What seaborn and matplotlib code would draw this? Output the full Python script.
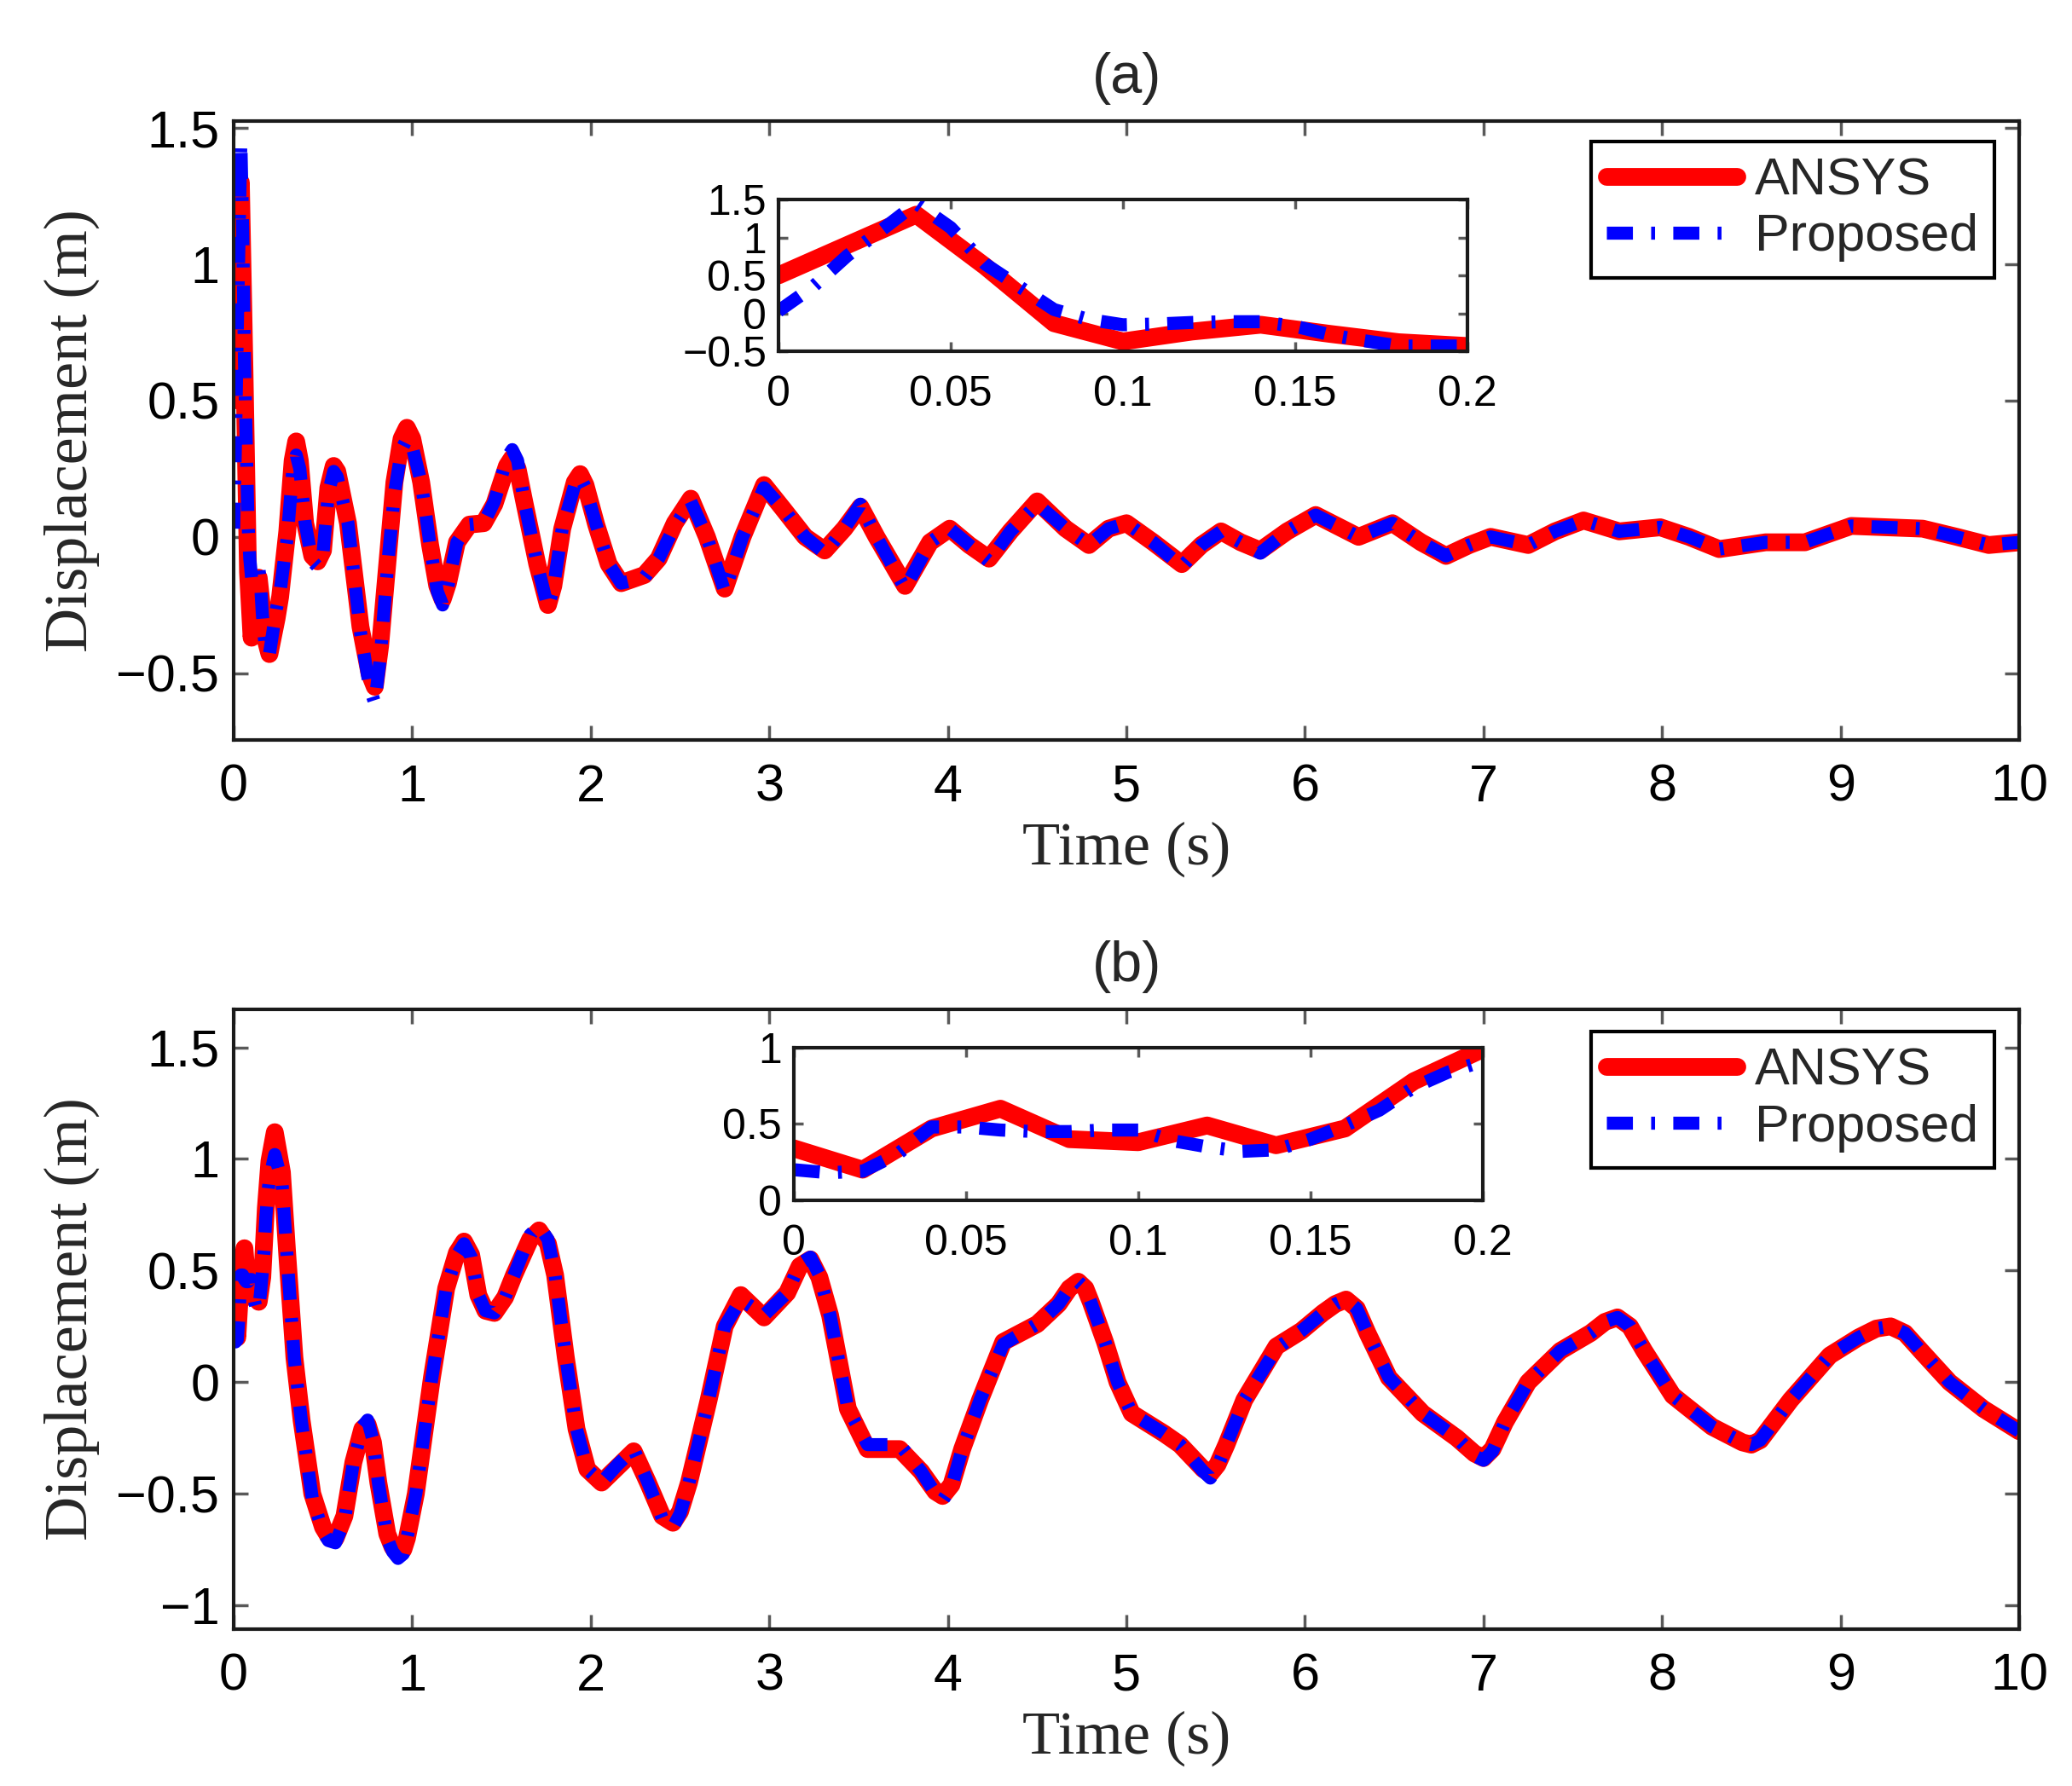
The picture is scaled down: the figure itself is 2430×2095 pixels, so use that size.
import matplotlib
matplotlib.use("Agg")
import matplotlib.pyplot as plt
from matplotlib.ticker import FuncFormatter
import seaborn as sns

# ---- values ----
# first 0.2 s of each record (what the insets show)
t_head_ansys = [0.00, 0.02, 0.04, 0.06, 0.08, 0.10, 0.12, 0.14, 0.16, 0.18, 0.20]
t_head_prop = [0.00, 0.01, 0.02, 0.03, 0.04, 0.05, 0.06, 0.07, 0.08, 0.09, 0.10,
               0.11, 0.12, 0.13, 0.14, 0.15, 0.16, 0.17, 0.18, 0.19, 0.20]

# (a)
a_head_ansys = [0.50, 0.90, 1.30, 0.62, -0.13, -0.37, -0.24, -0.15, -0.27, -0.38, -0.43]
a_head_prop = [0.03, 0.35, 0.76, 1.10, 1.45, 1.13, 0.65, 0.35, 0.05, -0.08, -0.15,
               -0.14, -0.12, -0.11, -0.11, -0.17, -0.28, -0.36, -0.43, -0.43, -0.43]

t_tail_a = [
    0.24, 0.26, 0.30, 0.33, 0.35, 0.37, 0.40, 0.44, 0.47, 0.50,
    0.53, 0.56, 0.58, 0.64, 0.71, 0.76, 0.79, 0.82, 0.86, 0.90,
    0.94, 0.97, 1.00, 1.05, 1.10, 1.14, 1.17, 1.20, 1.25, 1.32,
    1.40, 1.46, 1.53, 1.56, 1.59, 1.63, 1.70, 1.76, 1.79, 1.84,
    1.91, 1.94, 1.97, 2.03, 2.10, 2.17, 2.30, 2.38, 2.47, 2.56,
    2.65, 2.75, 2.85, 2.97, 3.08, 3.20, 3.31, 3.42, 3.51, 3.60,
    3.76, 3.90, 4.01, 4.12, 4.23, 4.35, 4.50, 4.66, 4.79, 4.90,
    5.00, 5.15, 5.31, 5.42, 5.53, 5.64, 5.75, 5.90, 6.06, 6.18,
    6.30, 6.49, 6.65, 6.79, 6.92, 7.04, 7.25, 7.40, 7.56, 7.76,
    7.99, 8.15, 8.32, 8.58, 8.80, 8.93, 9.06, 9.46, 9.65, 9.83,
    10.0]
a_tail_ansys = [
    -0.30, -0.22, 0.02, 0.28, 0.35, 0.28, 0.05, -0.07, -0.09, -0.05,
    0.18, 0.26, 0.24, 0.05, -0.33, -0.50, -0.55, -0.40, -0.10, 0.20,
    0.36, 0.40, 0.36, 0.20, -0.03, -0.18, -0.23, -0.17, -0.02, 0.045,
    0.05, 0.12, 0.26, 0.29, 0.25, 0.12, -0.10, -0.25, -0.18, 0.03,
    0.20, 0.23, 0.19, 0.045, -0.10, -0.17, -0.14, -0.08, 0.05, 0.14,
    0.00, -0.19, 0.00, 0.19, 0.10, 0.00, -0.05, 0.03, 0.11, 0.00,
    -0.18, -0.02, 0.03, -0.03, -0.08, 0.02, 0.13, 0.03, -0.03, 0.03,
    0.05, -0.02, -0.10, -0.03, 0.02, -0.02, -0.05, 0.02, 0.08, 0.04,
    0.00, 0.05, -0.02, -0.07, -0.03, 0.00, -0.03, 0.02, 0.06, 0.02,
    0.035, 0.00, -0.045, -0.02, -0.02, 0.01, 0.04, 0.03, 0.00, -0.03,
    -0.02]
a_tail_prop = [
    -0.26, -0.20, 0.00, 0.24, 0.30, 0.25, 0.05, -0.09, -0.11, -0.06,
    0.16, 0.24, 0.22, 0.05, -0.35, -0.55, -0.61, -0.45, -0.12, 0.16,
    0.32, 0.36, 0.33, 0.20, -0.03, -0.20, -0.25, -0.18, -0.02, 0.045,
    0.05, 0.13, 0.29, 0.32, 0.28, 0.12, -0.10, -0.26, -0.19, 0.03,
    0.19, 0.22, 0.18, 0.045, -0.10, -0.17, -0.15, -0.08, 0.04, 0.13,
    0.00, -0.20, 0.00, 0.18, 0.10, 0.00, -0.06, 0.03, 0.12, 0.00,
    -0.19, -0.02, 0.03, -0.03, -0.09, 0.02, 0.12, 0.03, -0.03, 0.03,
    0.05, -0.02, -0.11, -0.03, 0.02, -0.02, -0.06, 0.02, 0.08, 0.04,
    0.00, 0.05, -0.02, -0.07, -0.03, 0.00, -0.03, 0.02, 0.06, 0.02,
    0.035, 0.00, -0.045, -0.02, -0.02, 0.01, 0.04, 0.03, 0.00, -0.03,
    -0.02]

# (b)
b_head_ansys = [0.34, 0.20, 0.47, 0.60, 0.40, 0.38, 0.49, 0.36, 0.47, 0.78, 0.99]
b_head_prop = [0.20, 0.18, 0.19, 0.30, 0.48, 0.48, 0.46, 0.45, 0.45, 0.46, 0.46,
               0.39, 0.35, 0.32, 0.33, 0.40, 0.49, 0.59, 0.74, 0.84, 0.91]

t_tail_b = [
    0.23, 0.27, 0.30, 0.34, 0.38, 0.44, 0.50, 0.53, 0.57, 0.62,
    0.67, 0.72, 0.75, 0.78, 0.81, 0.86, 0.89, 0.92, 0.95, 0.97,
    1.02, 1.11, 1.19, 1.25, 1.29, 1.33, 1.37, 1.41, 1.46, 1.52,
    1.57, 1.66, 1.71, 1.76, 1.80, 1.86, 1.92, 1.98, 2.06, 2.15,
    2.24, 2.32, 2.40, 2.46, 2.50, 2.55, 2.66, 2.75, 2.84, 2.97,
    3.10, 3.17, 3.23, 3.28, 3.34, 3.44, 3.55, 3.73, 3.85, 3.93,
    3.97, 4.02, 4.08, 4.18, 4.31, 4.50, 4.62, 4.68, 4.73, 4.77,
    4.80, 4.88, 4.95, 5.03, 5.21, 5.30, 5.43, 5.47, 5.51, 5.56,
    5.66, 5.84, 5.98, 6.10, 6.17, 6.23, 6.29, 6.35, 6.47, 6.66,
    6.85, 6.95, 7.00, 7.05, 7.12, 7.25, 7.43, 7.60, 7.68, 7.75,
    7.82, 7.90, 8.06, 8.28, 8.45, 8.50, 8.55, 8.72, 8.94, 9.10,
    9.20, 9.28, 9.36, 9.45, 9.61, 9.80, 10.0]
b_tail_ansys = [
    1.12, 0.94, 0.57, 0.11, -0.17, -0.50, -0.65, -0.69, -0.70, -0.60,
    -0.36, -0.21, -0.19, -0.27, -0.45, -0.68, -0.74, -0.77, -0.75, -0.70,
    -0.50, 0.02, 0.42, 0.58, 0.63, 0.57, 0.39, 0.32, 0.31, 0.38,
    0.48, 0.64, 0.68, 0.62, 0.48, 0.11, -0.21, -0.39, -0.45, -0.38,
    -0.31, -0.45, -0.60, -0.63, -0.58, -0.45, -0.08, 0.25, 0.39, 0.29,
    0.40, 0.52, 0.55, 0.47, 0.30, -0.12, -0.30, -0.30, -0.40, -0.49,
    -0.51, -0.46, -0.30, -0.08, 0.18, 0.26, 0.35, 0.42, 0.45, 0.42,
    0.36, 0.18, 0.00, -0.14, -0.23, -0.28, -0.39, -0.41, -0.37, -0.28,
    -0.08, 0.16, 0.23, 0.31, 0.35, 0.37, 0.33, 0.22, 0.02, -0.14,
    -0.25, -0.32, -0.34, -0.30, -0.18, 0.00, 0.14, 0.22, 0.27, 0.29,
    0.25, 0.14, -0.06, -0.20, -0.27, -0.28, -0.26, -0.08, 0.12, 0.20,
    0.24, 0.25, 0.22, 0.14, 0.00, -0.12, -0.22]
b_tail_prop = [
    1.02, 0.90, 0.55, 0.10, -0.18, -0.52, -0.67, -0.71, -0.72, -0.62,
    -0.36, -0.20, -0.17, -0.26, -0.45, -0.70, -0.76, -0.79, -0.77, -0.70,
    -0.50, 0.02, 0.42, 0.57, 0.62, 0.56, 0.39, 0.32, 0.31, 0.38,
    0.48, 0.66, 0.70, 0.64, 0.48, 0.11, -0.21, -0.39, -0.45, -0.37,
    -0.30, -0.45, -0.61, -0.65, -0.59, -0.45, -0.08, 0.25, 0.37, 0.30,
    0.40, 0.53, 0.56, 0.48, 0.30, -0.12, -0.28, -0.28, -0.40, -0.50,
    -0.53, -0.47, -0.30, -0.08, 0.17, 0.26, 0.35, 0.42, 0.45, 0.42,
    0.36, 0.18, 0.00, -0.14, -0.23, -0.28, -0.40, -0.43, -0.38, -0.28,
    -0.08, 0.15, 0.23, 0.31, 0.35, 0.37, 0.33, 0.22, 0.02, -0.14,
    -0.25, -0.33, -0.35, -0.31, -0.18, 0.00, 0.14, 0.22, 0.27, 0.29,
    0.25, 0.14, -0.06, -0.20, -0.27, -0.28, -0.26, -0.08, 0.12, 0.20,
    0.24, 0.25, 0.22, 0.14, 0.00, -0.12, -0.22]

xticks_main = [0, 1, 2, 3, 4, 5, 6, 7, 8, 9, 10]
yticks_a = [-0.5, 0, 0.5, 1, 1.5]
yticks_b = [-1, -0.5, 0, 0.5, 1, 1.5]
xticks_inset = [0, 0.05, 0.1, 0.15, 0.2]
yticks_inset_a = [-0.5, 0, 0.5, 1, 1.5]
yticks_inset_b = [0, 0.5, 1]

RED = (1, 0, 0)
BLUE = (0, 0, 1)
DASHDOT = (0, (2.0, 1.4, 0.3, 1.4))

sns.set_style("ticks")
plt.rcParams["font.family"] = ["Liberation Sans", "DejaVu Sans"]
plt.rcParams["axes.unicode_minus"] = True

fmt = FuncFormatter(lambda v, p: ("%g" % v).replace("-", "\u2212"))


def style_axes(ax, fs, ticklen, xpad, ypad):
    for s in ax.spines.values():
        s.set_linewidth(3)
        s.set_color("0.1")
        s.set_visible(True)
    ax.tick_params(direction="in", top=True, right=True, length=ticklen, width=2.5,
                   color="0.35", labelsize=fs, labelcolor="black")
    ax.tick_params(axis="x", pad=xpad)
    ax.tick_params(axis="y", pad=ypad)
    ax.xaxis.set_major_formatter(fmt)
    ax.yaxis.set_major_formatter(fmt)


def draw_pair(ax, t_ans, d_ans, t_prop, d_prop):
    sns.lineplot(x=t_ans, y=d_ans, ax=ax, color=RED, lw=15, estimator=None,
                 solid_joinstyle="round", solid_capstyle="round",
                 label="ANSYS", legend=False)
    sns.lineplot(x=t_prop, y=d_prop, ax=ax, color=BLUE, lw=11, linestyle=DASHDOT,
                 dash_joinstyle="round", estimator=None, label="Proposed", legend=False)


fig = plt.figure(figsize=(24.3, 20.95), dpi=100)

panels = [
    dict(rect=[0.1128, 0.5857, 0.8617, 0.3465], inset=[0.3757, 0.8033, 0.3325, 0.085],
         t_ans=t_head_ansys + t_tail_a, d_ans=a_head_ansys + a_tail_ansys,
         t_prop=t_head_prop + t_tail_a, d_prop=a_head_prop + a_tail_prop,
         ylim=(-0.745, 1.525), yticks=yticks_a, iylim=(-0.5, 1.5), iyticks=yticks_inset_a,
         title="(a)", leg=(0.986, 0.967)),
    dict(rect=[0.1128, 0.0878, 0.8617, 0.347], inset=[0.3831, 0.328, 0.3325, 0.0854],
         t_ans=t_head_ansys + t_tail_b, d_ans=b_head_ansys + b_tail_ansys,
         t_prop=t_head_prop + t_tail_b, d_prop=b_head_prop + b_tail_prop,
         ylim=(-1.107, 1.67), yticks=yticks_b, iylim=(0, 1), iyticks=yticks_inset_b,
         title="(b)", leg=(0.986, 0.964)),
]

for p in panels:
    ax = fig.add_axes(p["rect"])
    draw_pair(ax, p["t_ans"], p["d_ans"], p["t_prop"], p["d_prop"])
    ax.set_xlim(0, 10)
    ax.set_ylim(*p["ylim"])
    ax.set_xticks(xticks_main)
    ax.set_yticks(p["yticks"])
    style_axes(ax, 44, 12, 20, 12)
    ax.set_xlabel("Time (s)", family=["Liberation Serif", "DejaVu Serif"], fontsize=52, labelpad=8)
    ax.set_ylabel("Displacement (m)", family=["Liberation Serif", "DejaVu Serif"], fontsize=52,
                  labelpad=14)
    ax.set_title(p["title"], fontsize=48, pad=24)
    leg = ax.legend(loc="upper right", bbox_to_anchor=p["leg"], fontsize=44, frameon=True,
                    fancybox=False, framealpha=1, edgecolor="black", handlelength=2.5,
                    handletextpad=0.35, borderpad=0.3, labelspacing=0.15, borderaxespad=0)
    leg.get_frame().set_linewidth(3)

    ins = fig.add_axes(p["inset"])
    draw_pair(ins, p["t_ans"], p["d_ans"], p["t_prop"], p["d_prop"])
    ins.set_xlim(0, 0.2)
    ins.set_ylim(*p["iylim"])
    ins.set_xticks(xticks_inset)
    ins.set_yticks(p["iyticks"])
    style_axes(ins, 36, 8, 20, 10)
    ins.set_xlabel("")
    ins.set_ylabel("")

fig.savefig("out.png", dpi=100, facecolor="white")
